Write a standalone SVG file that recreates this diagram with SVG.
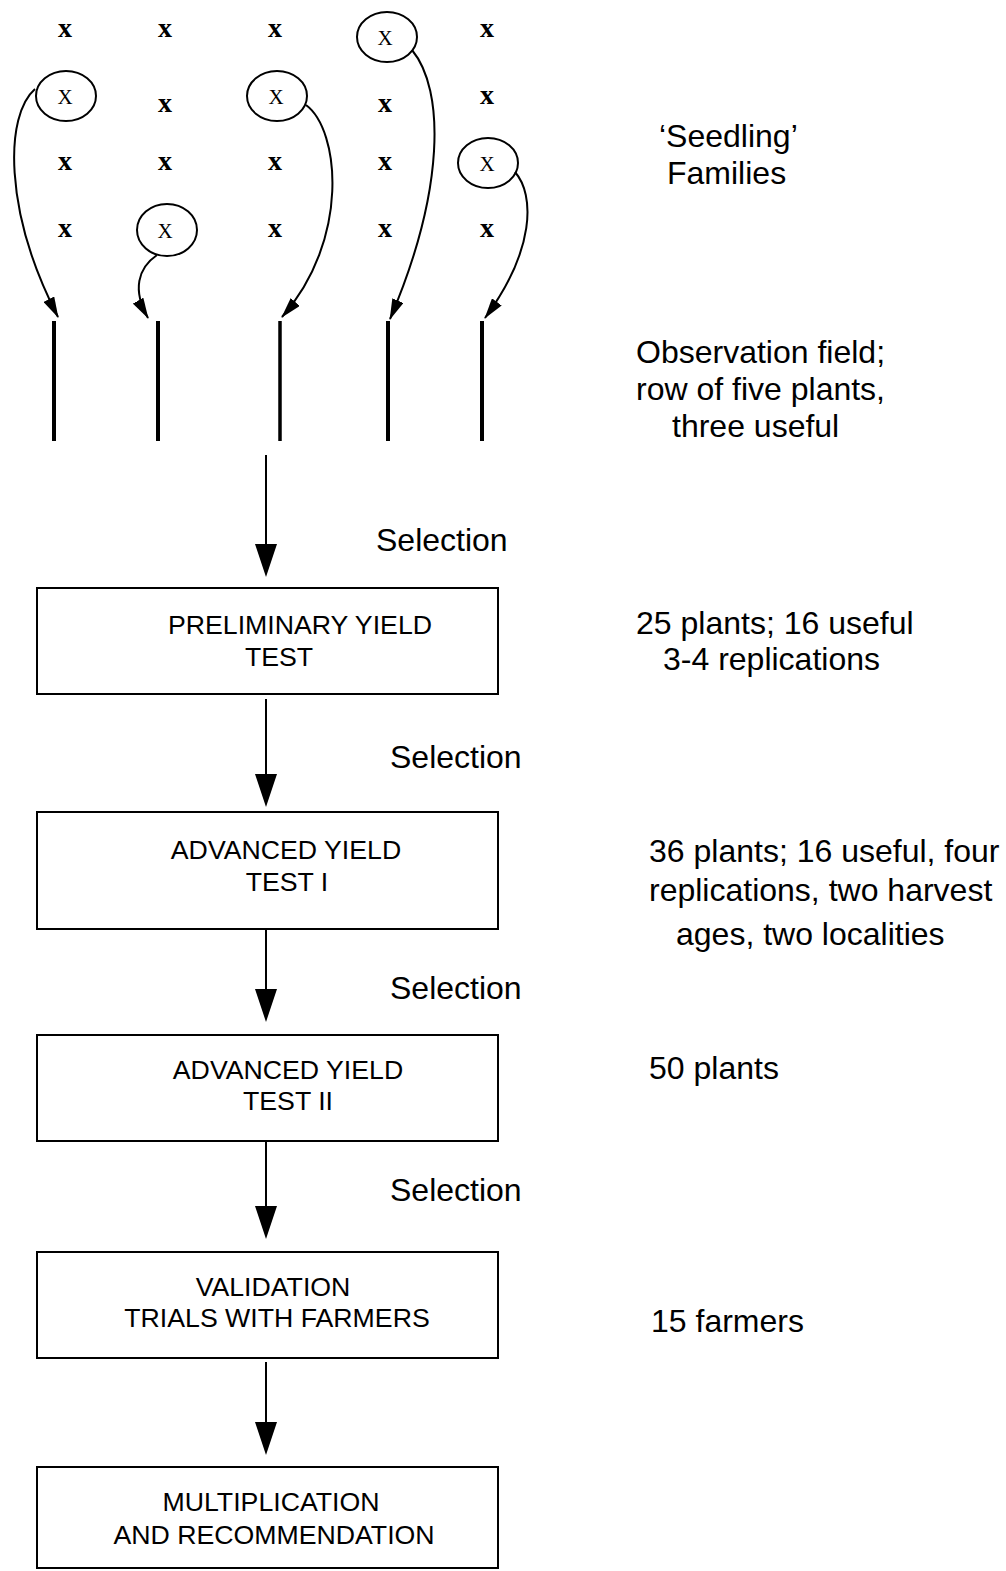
<svg xmlns="http://www.w3.org/2000/svg" width="1006" height="1571" viewBox="0 0 1006 1571">
<defs>
<marker id="ah" markerUnits="userSpaceOnUse" markerWidth="21" markerHeight="12" refX="20" refY="6" orient="auto"><path d="M0,0 L21,6 L0,12 Z" fill="#000"/></marker>
</defs>
<style>
.bx{fill:#fff;stroke:#000;stroke-width:2}
.t{font-family:"Liberation Sans",Arial,sans-serif;fill:#000}
.bt{font-size:26.7px;text-anchor:middle}
.rt{font-size:32px}
.xm{font-family:"Liberation Serif","Times New Roman",serif;font-weight:bold;font-size:28px;text-anchor:middle;fill:#000}
.xc{font-family:"Liberation Serif","Times New Roman",serif;font-size:21px;text-anchor:middle;fill:#000}
.cir{fill:none;stroke:#000;stroke-width:2}
.bar{stroke:#000;stroke-width:4}
.cv{fill:none;stroke:#000;stroke-width:2;marker-end:url(#ah)}
.ln{stroke:#000;stroke-width:2}
.hd{fill:#000}
</style>
<rect width="1006" height="1571" fill="#fff"/>

<g id="seedlings">
<text class="xm" x="65" y="37">x</text>
<text class="xm" x="165" y="37">x</text>
<text class="xm" x="275" y="37">x</text>
<text class="xm" x="487" y="37">x</text>
<text class="xm" x="165" y="112">x</text>
<text class="xm" x="385" y="112">x</text>
<text class="xm" x="487" y="104">x</text>
<text class="xm" x="65" y="170">x</text>
<text class="xm" x="165" y="170">x</text>
<text class="xm" x="275" y="170">x</text>
<text class="xm" x="385" y="170">x</text>
<text class="xm" x="65" y="237">x</text>
<text class="xm" x="275" y="237">x</text>
<text class="xm" x="385" y="237">x</text>
<text class="xm" x="487" y="237">x</text>
</g>

<g id="sel1"><ellipse class="cir" cx="66" cy="96" rx="30" ry="25"/><text class="xc" x="65" y="104">X</text></g>
<g id="sel2"><ellipse class="cir" cx="387" cy="37" rx="30" ry="25"/><text class="xc" x="385" y="45">X</text></g>
<g id="sel3"><ellipse class="cir" cx="277" cy="96" rx="30" ry="25"/><text class="xc" x="276" y="104">X</text></g>
<g id="sel4"><ellipse class="cir" cx="488" cy="163" rx="30" ry="25"/><text class="xc" x="487" y="171">X</text></g>
<g id="sel5"><ellipse class="cir" cx="167" cy="230" rx="30" ry="26"/><text class="xc" x="165" y="238">X</text></g>

<g id="rows">
<line class="bar" x1="54" y1="321" x2="54" y2="441"/>
<line class="bar" x1="158" y1="321" x2="158" y2="441"/>
<line class="bar" x1="280" y1="321" x2="280" y2="441" style="stroke-width:3.5"/>
<line class="bar" x1="388" y1="321" x2="388" y2="441"/>
<line class="bar" x1="482" y1="321" x2="482" y2="441"/>
</g>

<g id="box1"><rect class="bx" x="37" y="588" width="461" height="106"/>
<text class="t bt" x="300" y="634">PRELIMINARY YIELD</text>
<text class="t bt" x="279" y="666">TEST</text></g>
<g id="box2"><rect class="bx" x="37" y="812" width="461" height="117"/>
<text class="t bt" x="286" y="859">ADVANCED YIELD</text>
<text class="t bt" x="287" y="891">TEST I</text></g>
<g id="box3"><rect class="bx" x="37" y="1035" width="461" height="106"/>
<text class="t bt" x="288" y="1079">ADVANCED YIELD</text>
<text class="t bt" x="288" y="1110">TEST II</text></g>
<g id="box4"><rect class="bx" x="37" y="1252" width="461" height="106"/>
<text class="t bt" x="273" y="1296">VALIDATION</text>
<text class="t bt" x="277" y="1327">TRIALS WITH FARMERS</text></g>
<g id="box5"><rect class="bx" x="37" y="1467" width="461" height="101"/>
<text class="t bt" x="271" y="1511">MULTIPLICATION</text>
<text class="t bt" x="274" y="1544">AND RECOMMENDATION</text></g>

<g id="labels">
<text class="t rt" x="659" y="147">‘Seedling’</text>
<text class="t rt" x="667" y="184">Families</text>
<text class="t rt" x="636" y="363">Observation field;</text>
<text class="t rt" x="636" y="400">row of five plants,</text>
<text class="t rt" x="672" y="437">three useful</text>
<text class="t rt" x="376" y="551">Selection</text>
<text class="t rt" x="636" y="634">25 plants; 16 useful</text>
<text class="t rt" x="663" y="670">3-4 replications</text>
<text class="t rt" x="390" y="768">Selection</text>
<text class="t rt" x="649" y="862">36 plants; 16 useful, four</text>
<text class="t rt" x="649" y="901">replications, two harvest</text>
<text class="t rt" x="676" y="945">ages, two localities</text>
<text class="t rt" x="390" y="999">Selection</text>
<text class="t rt" x="649" y="1079">50 plants</text>
<text class="t rt" x="390" y="1201">Selection</text>
<text class="t rt" x="651" y="1332">15 farmers</text>
</g>

<g id="connectors">
<path class="cv" d="M35,89 C5,115 3,210 58,317"/>
<path class="cv" d="M157,255 C138,268 132,290 148,318"/>
<path class="cv" d="M306,105 C340,130 350,240 282,317"/>
<path class="cv" d="M412,50 C445,90 445,190 390,319"/>
<path class="cv" d="M515,172 C535,195 535,250 485,318"/>
<line class="ln" x1="266" y1="455" x2="266" y2="560"/>
<polygon class="hd" points="255,544 277,544 266,577"/>
<line class="ln" x1="266" y1="699" x2="266" y2="790"/>
<polygon class="hd" points="255,774 277,774 266,807"/>
<line class="ln" x1="266" y1="929" x2="266" y2="1005"/>
<polygon class="hd" points="255,989 277,989 266,1022"/>
<line class="ln" x1="266" y1="1141" x2="266" y2="1222"/>
<polygon class="hd" points="255,1206 277,1206 266,1239"/>
<line class="ln" x1="266" y1="1362" x2="266" y2="1438"/>
<polygon class="hd" points="255,1422 277,1422 266,1455"/>
</g>
</svg>
